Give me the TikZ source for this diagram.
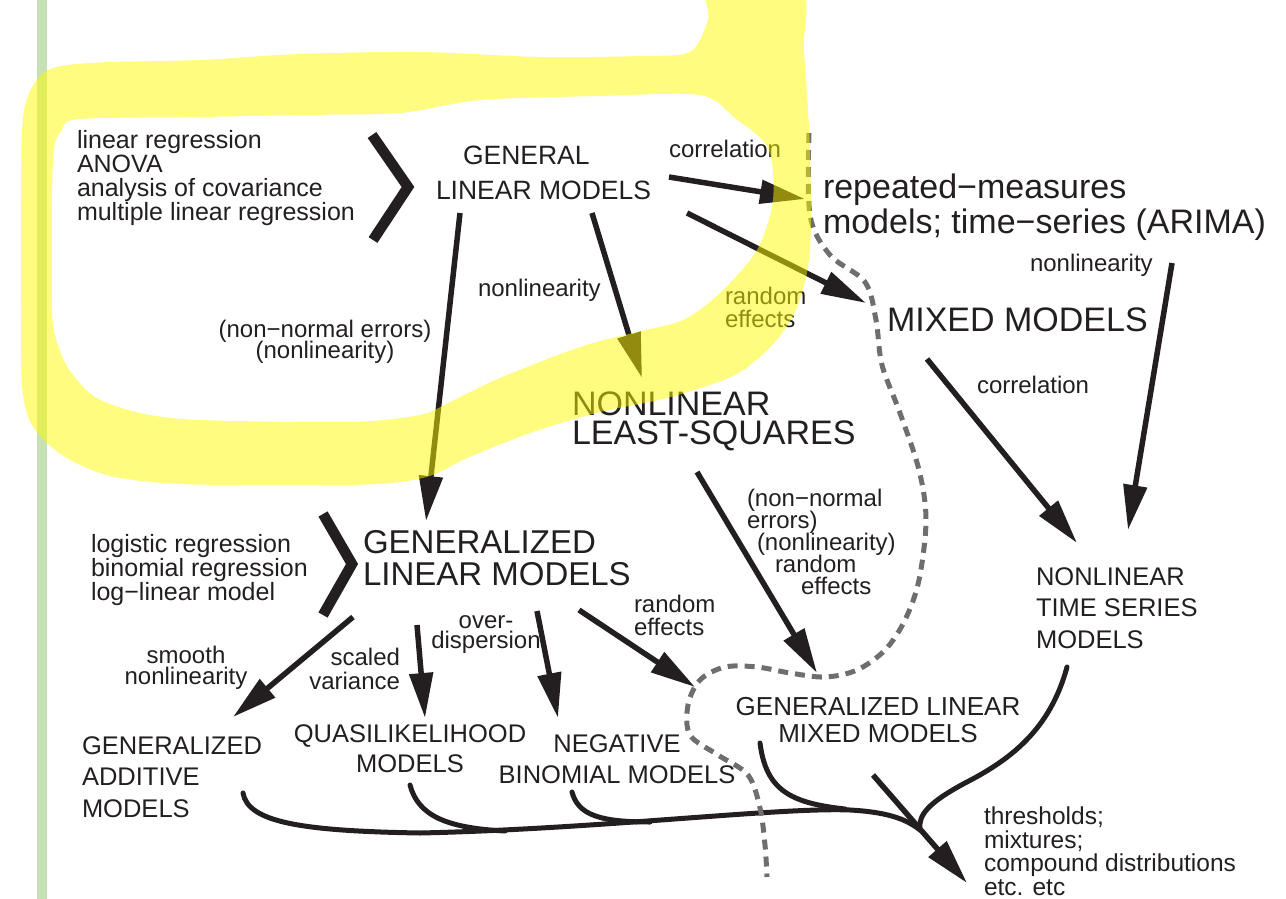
\documentclass[tikz,border=0pt]{standalone}
\usepackage{fontspec}
\setmainfont{Liberation Sans}
\usetikzlibrary{arrows.meta}
\definecolor{ink}{RGB}{35,31,32}
\definecolor{hl}{RGB}{255,250,0}
\definecolor{barcol}{RGB}{198,226,180}
\definecolor{dashcol}{RGB}{110,110,110}

\begin{document}
\lineskiplimit=-50pt
\begin{tikzpicture}[x=1pt,y=-1pt,
  every node/.style={inner sep=0pt, outer sep=0pt, text=ink},
  f/.style 2 args={font=\fontsize{#1}{#2}\selectfont},
  arr/.style={draw=ink, line width=5.5pt, -{Triangle[length=45pt,width=23pt]}},
  joinline/.style={draw=ink, line width=5pt, line cap=round},
  chev/.style={draw=ink, line width=10.5pt, miter limit=10},
  bound/.style={draw=dashcol, line width=5pt, dash pattern=on 10pt off 7pt}]

\useasboundingbox (0,0) rectangle (1286,899);

% margin bar
\fill[barcol] (37,-5) rectangle (47,905);

% ---------- text blocks (anchored on the last line's baseline) ----------
\node[f={25}{23.7}, align=left, anchor=base west] (listA) at (77,220)
  {linear regression\\ANOVA\\analysis of covariance\\multiple linear regression};
\node[f={26.5}{35}, align=left, anchor=base west] (glm) at (436,199)
  {\hspace*{27pt}GENERAL\\LINEAR MODELS};
\node[f={24}{23}, anchor=base west] (corrA) at (669,157) {correlation};
\node[f={34}{35}, align=left, anchor=base west] (rep) at (823,233)
  {repeated−measures\\models; time−series (ARIMA)};
\node[f={34}{35}, anchor=base west] (mixed) at (887,331) {MIXED MODELS};
\node[f={24}{23}, anchor=base west] (nonlinA) at (478,296) {nonlinearity};
\node[f={24}{21}, align=center, anchor=base] (nonnormA) at (325,358)
  {(non−normal errors)\\(nonlinearity)};
\node[f={24}{23}, align=left, anchor=base west] (randA) at (725,327) {random\\effects};
\node[f={24}{23}, anchor=base west] (nonlinB) at (1030,271) {nonlinearity};
\node[f={24}{23}, anchor=base west] (corrB) at (977,393) {correlation};
\node[f={34}{29}, align=left, anchor=base west] (nlls) at (572,444)
  {NONLINEAR\\LEAST-SQUARES};
\node[f={33}{32}, align=left, anchor=base west] (glz) at (363,585)
  {GENERALIZED\\LINEAR MODELS};
\node[f={25}{23.6}, align=left, anchor=base west] (listB) at (91,600)
  {logistic regression\\binomial regression\\log−linear model};
\node[f={25.5}{31.5}, align=left, anchor=base west] (nlts) at (1036,648)
  {NONLINEAR\\TIME SERIES\\MODELS};
\node[f={24}{21.8}, align=left, anchor=base west] (nonnormB) at (747,594)
  {(non−normal\\errors)\\\hspace*{10pt}(nonlinearity)\\\hspace*{28pt}random\\\hspace*{54pt}effects};
\node[f={24}{21}, align=center, anchor=base] (smooth) at (186,684) {smooth\\nonlinearity};
\node[f={24}{24}, align=right, anchor=base east] (scaled) at (400,689) {scaled\\variance};
\node[f={24}{20}, align=center, anchor=base] (overd) at (486,648) {over-\\dispersion};
\node[f={24}{23}, align=left, anchor=base west] (randB) at (634,635) {random\\effects};
\node[f={25.5}{31.5}, align=left, anchor=base west] (gam) at (82,817)
  {GENERALIZED\\ADDITIVE\\MODELS};
\node[f={25.5}{30}, align=center, anchor=base] (quasi) at (410,772)
  {QUASILIKELIHOOD\\MODELS};
\node[f={25.5}{31}, align=center, anchor=base] (negbin) at (617,783)
  {NEGATIVE\\BINOMIAL MODELS};
\node[f={26}{27}, align=center, anchor=base] (glmm) at (878,742)
  {GENERALIZED LINEAR\\MIXED MODELS};
\node[f={24.5}{23.5}, align=left, anchor=base west] (extra) at (984,895)
  {thresholds;\\mixtures;\\compound distributions\\etc. etc};

% ---------- grouping chevrons ----------
\draw[chev] (372,135) -- (408,187) -- (373,240);
\draw[chev] (323,514) -- (352,564) -- (323,615);

% ---------- connector end points ----------
\coordinate (glmR)   at (669,177);
\coordinate (repL)   at (805,199);
\coordinate (glmRB)  at (687,213);
\coordinate (mixL)   at (866,303);
\coordinate (glmB)   at (592,213);
\coordinate (nllsT)  at (642,378);
\coordinate (glmBL)  at (460,213);
\coordinate (glzT)   at (426,521);
\coordinate (repB)   at (1172,263);
\coordinate (nltsT)  at (1128,530);
\coordinate (mixB)   at (927,359);
\coordinate (nltsTL) at (1077,543);
\coordinate (glzBL)  at (353,617);
\coordinate (gamT)   at (233,717);
\coordinate (glzB1)  at (417,625);
\coordinate (quasiT) at (425,718);
\coordinate (glzB2)  at (537,611);
\coordinate (negT)   at (558,718);
\coordinate (glzBR)  at (579,610);
\coordinate (glmmTL) at (695,687);
\coordinate (nllsB)  at (697,472);
\coordinate (glmmT)  at (817,673);
\coordinate (gamB)   at (243,793);
\coordinate (quasiB) at (410,785);
\coordinate (negB)   at (572,792);
\coordinate (glmmB)  at (760,743);
\coordinate (nltsB)  at (1067,667);
\coordinate (trunk)  at (420,833);
\coordinate (jq)     at (505,831);
\coordinate (jn)     at (650,822);
\coordinate (jg)     at (845,809);
\coordinate (merge)  at (920,830);
\coordinate (outS)   at (873,775);
\coordinate (extraT) at (967,883);

% ---------- arrows ----------
\draw[arr] (glmR) -- (repL);
\draw[arr] (glmRB) -- (mixL);
\draw[arr] (glmB) -- (nllsT);
\draw[arr] (glmBL) -- (glzT);
\draw[arr] (repB) -- (nltsT);
\draw[arr] (mixB) -- (nltsTL);
\draw[arr] (glzBL) -- (gamT);
\draw[arr] (glzB1) -- (quasiT);
\draw[arr] (glzB2) -- (negT);
\draw[arr] (glzBR) -- (glmmTL);
\draw[arr] (nllsB) -- (glmmT);

% ---------- merging lines into the final arrow ----------
\draw[joinline] (gamB) .. controls (248,822) and (300,831) .. (trunk)
  .. controls (600,829) and (780,807) .. (850,810)
  .. controls (885,812) and (905,818) .. (merge);
\draw[joinline] (quasiB) .. controls (418,815) and (445,828) .. (jq);
\draw[joinline] (negB) .. controls (578,815) and (600,822) .. (jn);
\draw[joinline] (glmmB) .. controls (766,790) and (790,803) .. (jg);
\draw[joinline] (nltsB) .. controls (1050,730) and (1010,760) .. (965,783)
  .. controls (928,803) and (918,815) .. (merge);
\draw[arr] (outS) -- (extraT);

% ---------- dashed boundary ----------
\draw[bound] plot[smooth, tension=0.55] coordinates {
  (809,133) (810,215) (830,255) (865,282) (876,320) (882,365) (900,413)
  (919,470) (926,520) (919,580) (905,620) (885,650) (857,670) (825,677)
  (790,673) (757,667) (725,667) (700,680) (688,705) (690,735) (718,755)
  (748,775) (760,808) (765,845) (767,877)};

% ---------- highlighter loop ----------
\fill[hl, fill opacity=0.5, even odd rule]
  plot[smooth cycle, tension=0.5] coordinates {
    (21,200) (24,110) (45,72) (90,63) (200,60) (300,54) (420,52) (540,57)
    (640,56) (690,52) (708,20) (712,-10) (800,-10) (804,50) (810,150)
    (810,250) (798,305) (775,342) (735,375) (667,398) (600,412) (533,432)
    (467,458) (430,476) (380,484) (280,485) (180,484) (110,476) (62,455)
    (32,425) (22,385) (21,300)}
  plot[smooth cycle, tension=0.5] coordinates {
    (52,300) (53,160) (62,130) (80,119) (200,117) (300,115) (400,113)
    (480,100) (600,96) (700,95) (735,118) (768,148) (773,200) (757,250)
    (720,293) (683,320) (633,333) (580,347) (500,378) (450,402) (420,415)
    (350,422) (200,420) (140,413) (95,397) (68,368) (55,335)};

\end{tikzpicture}
\end{document}
